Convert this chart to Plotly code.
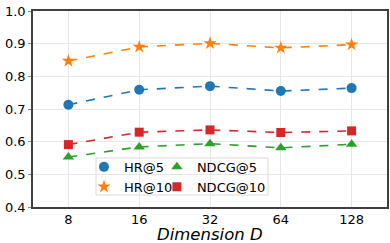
import plotly.graph_objects as go

dims = ["8", "16", "32", "64", "128"]
hr5 = [0.713, 0.759, 0.770, 0.755, 0.764]
hr10 = [0.847, 0.890, 0.901, 0.887, 0.897]
ndcg5 = [0.553, 0.584, 0.594, 0.581, 0.592]
ndcg10 = [0.591, 0.629, 0.636, 0.628, 0.633]
y_ticks = [0.4, 0.5, 0.6, 0.7, 0.8, 0.9, 1.0]

series = [
    ("HR@5", hr5, "#1f77b4", "circle", 10, "legend"),
    ("HR@10", hr10, "#ff7f0e", "star", 10, "legend"),
    ("NDCG@5", ndcg5, "#2ca02c", "triangle-up", 10, "legend2"),
    ("NDCG@10", ndcg10, "#d62728", "square", 9, "legend2"),
]

fig = go.Figure()
for name, vals, col, sym, sz, lg in series:
    fig.add_trace(go.Scatter(
        x=dims, y=vals, mode="lines+markers", name=name, showlegend=False,
        line=dict(color=col, width=1.6, dash="dash"),
        marker=dict(symbol=sym, size=sz, color=col),
    ))
    fig.add_trace(go.Scatter(
        x=[None], y=[None], mode="markers", name=name, legend=lg,
        marker=dict(symbol=sym, size=sz, color=col),
    ))

font = "DejaVu Sans"
fig.update_layout(
    width=390, height=243,
    margin=dict(l=33, r=3, t=11, b=36),
    paper_bgcolor="white", plot_bgcolor="white",
    font=dict(family=font, size=13, color="black"),
    xaxis=dict(
        type="category", range=[-0.5, 4.5], automargin=False,
        showgrid=True, gridcolor="#e6e6e6", gridwidth=1,
        showline=True, linecolor="#404040", linewidth=1.5, mirror=True,
        ticks="",
        tickfont=dict(size=13, family=font),
    ),
    yaxis=dict(
        range=[0.4, 1.0], tickvals=y_ticks, automargin=False,
        ticktext=[f"{v:.1f}" for v in y_ticks],
        showgrid=True, gridcolor="#e6e6e6", gridwidth=1,
        showline=True, linecolor="#404040", linewidth=1.5, mirror=True,
        ticks="outside", ticklen=3, tickcolor="#888888", tickwidth=1,
        tickfont=dict(size=13, family=font),
        zeroline=False,
    ),
    annotations=[dict(
        text="<i>Dimension D</i>", xref="paper", yref="paper",
        x=0.5, y=-0.14, xanchor="center", yanchor="middle",
        showarrow=False, font=dict(size=16.5, family=font),
    )],
    legend=dict(
        x=0.144, y=0.281, xanchor="left", yanchor="top",
        bgcolor="rgba(0,0,0,0)", borderwidth=0,
        font=dict(size=13, family=font), itemwidth=30,
        tracegroupgap=0,
    ),
    legend2=dict(
        x=0.350, y=0.281, xanchor="left", yanchor="top",
        bgcolor="rgba(0,0,0,0)", borderwidth=0,
        font=dict(size=13, family=font), itemwidth=30,
        tracegroupgap=0,
    ),
    shapes=[dict(
        type="rect", xref="paper", yref="paper",
        x0=0.178, x1=0.664, y0=0.061, y1=0.25,
        line=dict(color="#d9d9d9", width=1), fillcolor="rgba(255,255,255,0.8)",
        layer="below",
    )],
)
fig.write_html("out.html", config={"displayModeBar": False},
               post_script="document.body.style.margin='0';")
